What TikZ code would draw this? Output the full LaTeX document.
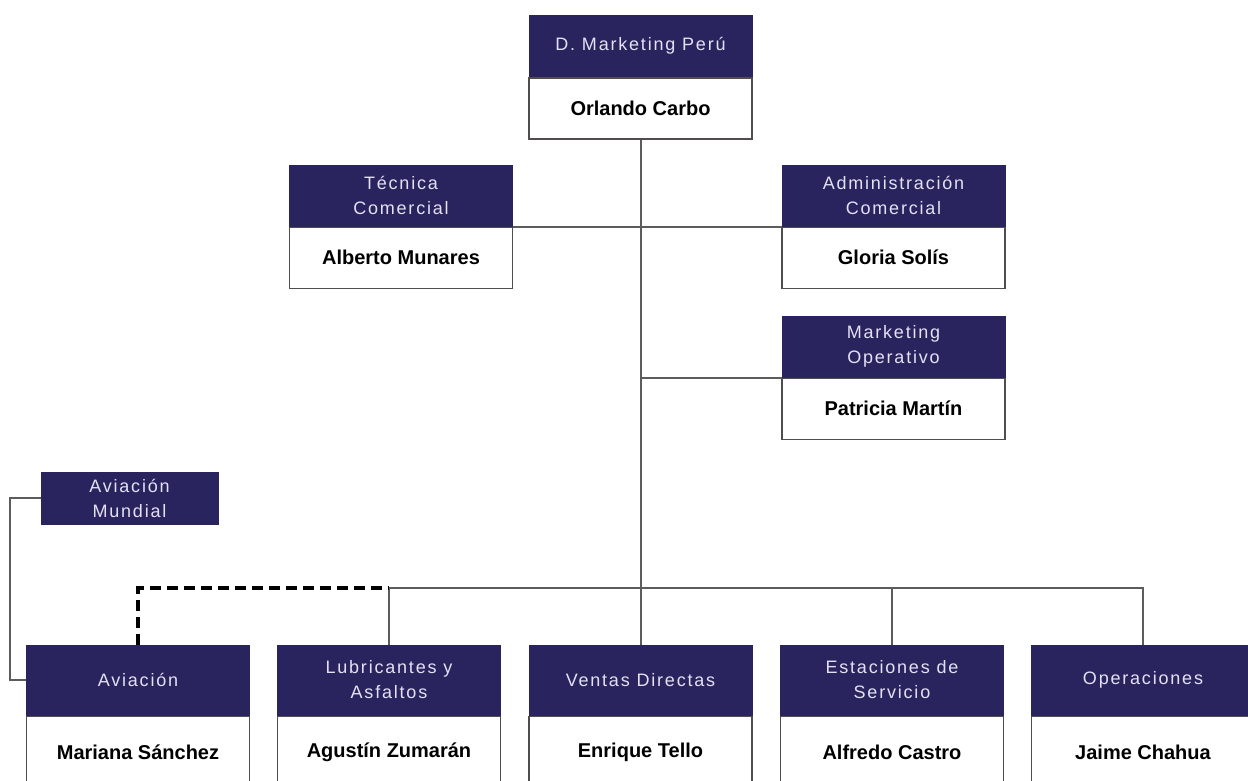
\documentclass[tikz,border=0pt]{standalone}
\usepackage{fontspec}
\setmainfont{Liberation Sans}
\newfontfamily\headfont[LetterSpace=10]{Liberation Sans}
\usepackage{tikz}
\usetikzlibrary{positioning}
\definecolor{navy}{RGB}{42,36,94}
\definecolor{headtxt}{RGB}{226,226,244}
\definecolor{frame}{RGB}{80,76,80}
\definecolor{wire}{RGB}{92,92,92}

\begin{document}
\begin{tikzpicture}[
            x = 1pt, y = -1pt, % pixel grid, y going down
            node distance = 0pt,
            line width = 2pt
        ]

        \tikzstyle{head}=[
            fill = navy, draw = navy, line width = 1pt,
            text = headtxt, inner sep = 0pt,
            minimum width = 223pt, minimum height = 61pt,
            align = center,
            font = \headfont\fontsize{18}{25}\selectfont
        ]
        \tikzstyle{pers}=[
            fill = white, draw = frame, line width = 1.5pt,
            text = black, inner sep = 0pt,
            minimum width = 223pt, minimum height = 61pt,
            font = \bfseries\fontsize{20}{24}\selectfont
        ]
        \tikzstyle{wire}=[draw = wire, line width = 2pt]

        \useasboundingbox[fill = white] (0,0) rectangle (1248,780);

	% direction
        \node[head] (DM) at (640.5,46) {D. Marketing Perú};
        \node[pers] (DMn) [below=of DM] {Orlando Carbo};

         % staff
         \node[head] (TC) at (401,195.5) {Técnica\\Comercial};
         \node[pers] (TCn) [below=of TC] {Alberto Munares};
         \node[head] (AC) at (893.5,195.5) {Administración\\Comercial};
         \node[pers] (ACn) [below=of AC] {Gloria Solís};
         \node[head] (MO) at (893.5,346.5) {Marketing\\Operativo};
         \node[pers] (MOn) [below=of MO] {Patricia Martín};

         \node[head, minimum width = 177pt, minimum height = 52pt] (AM) at (129.5,498) {Aviación\\Mundial};

         % areas
         \node[head, minimum height = 70pt] (AV) at (138,680) {Aviación};
         \node[pers, minimum height = 72pt] (AVn) [below=of AV] {Mariana Sánchez};
         \node[head, minimum height = 70pt] (LA) at (389,680) {Lubricantes y\\Asfaltos};
         \node[pers, minimum height = 72pt] (LAn) [below=of LA] {Agustín Zumarán};
         \node[head, minimum height = 70pt] (VD) at (640.5,680) {Ventas Directas};
         \node[pers, minimum height = 72pt] (VDn) [below=of VD] {Enrique Tello};
         \node[head, minimum height = 70pt] (ES) at (892,680) {Estaciones de\\Servicio};
         \node[pers, minimum height = 72pt] (ESn) [below=of ES] {Alfredo Castro};
         \node[head, minimum height = 70pt] (OP) at (1143,680) {Operaciones};
         \node[pers, minimum height = 72pt] (OPn) [below=of OP] {Jaime Chahua};

         \coordinate (bus) at (640.5,588);
         \coordinate (AMl) at (10,498);

         % lines
         \path[wire] (DMn.south) -- (VD.north);
         \path[wire] (TC.south east) -- (AC.south west);
         \path[wire] (MO.south west) -- (MO.south west -| DMn.south);
         \path[wire] (LA.north) -- (LA.north |- bus) -- (OP.north |- bus) -- (OP.north);
         \path[wire] (ES.north) -- (ES.north |- bus);
         \path[wire] (AM.west) -- (AMl) |- (AV.west);
         \draw[black, line width = 3.5pt, dash pattern = on 11pt off 6pt]
              (AV.north) -- (AV.north |- bus) -- (LA.north |- bus);

  \end{tikzpicture}
\end{document}
